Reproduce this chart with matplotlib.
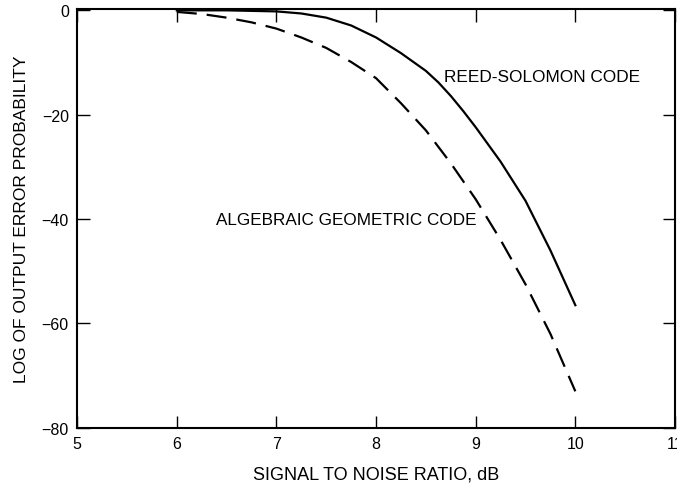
import numpy as np
import matplotlib
matplotlib.use('Agg')
import matplotlib.pyplot as plt

plt.rcParams['font.family'] = ['Liberation Sans', 'DejaVu Sans']

# Reed-Solomon code (solid)
rs_snr = [6.0, 6.5, 7.0, 7.25, 7.5, 7.75, 8.0, 8.25, 8.5, 8.625, 8.75, 8.875, 9.0, 9.25, 9.5, 9.75, 10.0]
rs_log_err = [0.0, 0.0, -0.2, -0.6, -1.4, -2.9, -5.2, -8.2, -11.6, -13.8, -16.4, -19.3, -22.4, -29.0, -36.5, -46.0, -56.5]

# Algebraic geometric code (dashed)
ag_snr = [6.0, 6.25, 6.5, 6.75, 7.0, 7.25, 7.5, 7.75, 8.0, 8.25, 8.5, 8.75, 9.0, 9.25, 9.5, 9.75, 10.0]
ag_log_err = [-0.3, -0.7, -1.4, -2.3, -3.5, -5.2, -7.2, -9.9, -13.0, -17.8, -23.0, -29.3, -36.2, -44.0, -52.5, -62.0, -73.0]

x_ticks = [5, 6, 7, 8, 9, 10, 11]
y_ticks = [0, -20, -40, -60, -80]

fig = plt.figure(figsize=(6.77, 4.89), dpi=100)
ax = fig.add_axes([0.114, 0.123, 0.883, 0.857])

ax.plot(rs_snr, rs_log_err, color='black', lw=1.6)
line, = ax.plot(ag_snr, ag_log_err, color='black', lw=1.6)
line.set_dashes([9, 4.5])

ax.text(8.68, -12.7, 'REED-SOLOMON CODE', fontsize=12.4, va='center', ha='left')
ax.text(6.39, -40.1, 'ALGEBRAIC GEOMETRIC CODE', fontsize=12.3, va='center', ha='left')

ax.set_xlim(5, 11)
ax.set_ylim(-80, 0.3)
ax.set_xticks(x_ticks)
ax.set_yticks(y_ticks)
ax.tick_params(direction='in', length=9, width=1, top=True, right=True, labelsize=11.5, pad=6)
for s in ax.spines.values():
    s.set_linewidth(1.5)

ax.set_xlabel('SIGNAL TO NOISE RATIO, dB', fontsize=13, labelpad=10)
ax.set_ylabel('LOG OF OUTPUT ERROR PROBABILITY', fontsize=12.5, labelpad=9)

fig.savefig('out.png', dpi=100)
